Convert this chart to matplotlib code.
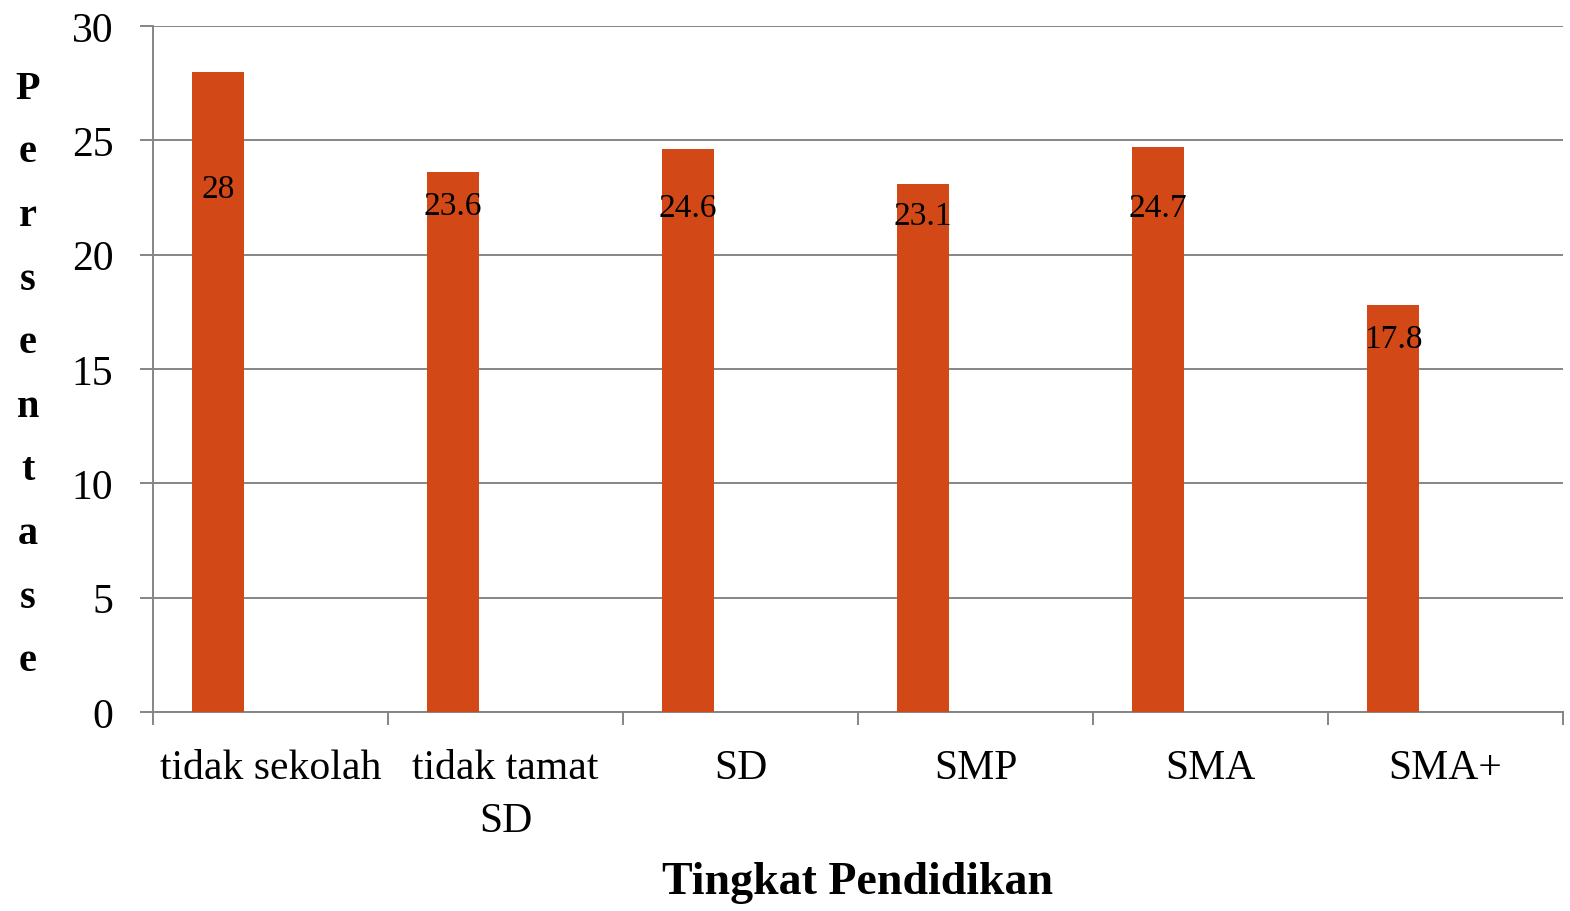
import matplotlib
matplotlib.use("Agg")
import matplotlib.pyplot as plt
import numpy as np

categories = ["tidak sekolah", "tidak tamat\nSD", "SD", "SMP", "SMA", "SMA+"]
values = [28, 23.6, 24.6, 23.1, 24.7, 17.8]
value_labels = ["28", "23.6", "24.6", "23.1", "24.7", "17.8"]
label_y = [22.87, 22.13, 22.04, 21.69, 22.04, 16.31]
yticks = [0, 5, 10, 15, 20, 25, 30]

FONT = "Liberation Serif"
plt.rcParams['font.family'] = [FONT, 'DejaVu Serif']

fig = plt.figure(figsize=(15.7, 9.12), dpi=100)
ax = fig.add_axes([153/1570, 1 - 713/912, (1563-153)/1570, (713-27)/912])

n = len(categories)
x = np.arange(n)
bar_off = 65/235
bar_w = 52/235
ax.bar(x + bar_off, values, width=bar_w, color="#D24817", zorder=3)

for xi, ly, lab in zip(x, label_y, value_labels):
    ax.text(xi + bar_off, ly, lab, ha="center", va="center", fontsize=24,
            color="black", zorder=4)

ax.set_xlim(0, n)
ax.set_ylim(0, 30)
ax.set_yticks(yticks)
ax.set_yticklabels([str(t) for t in yticks], fontsize=30)
ax.yaxis.grid(True, color="#858585", lw=1.4, zorder=0)
ax.tick_params(axis="y", length=9.5, width=1.4, color="#858585", pad=19)

ax.set_xticks(np.arange(n + 1))
ax.set_xticklabels([])
ax.set_xticks(x + 0.5, minor=True)
ax.set_xticklabels(categories, minor=True, fontsize=30, linespacing=1.5)
ax.tick_params(axis="x", which="major", length=9.5, width=1.4, color="#858585")
ax.tick_params(axis="x", which="minor", length=0, pad=26)

for s in ["top", "right"]:
    ax.spines[s].set_visible(False)
for s in ["left", "bottom"]:
    ax.spines[s].set_color("#858585")
    ax.spines[s].set_linewidth(1.4)

fig.text(858/1570, 1 - 883/912, "Tingkat Pendidikan", ha="center", va="center",
         fontsize=33, fontweight="bold")

ylabel = "Persentase"
fig.text(28/1570, 1 - 375.5/912, "\n".join(ylabel), ha="center", va="center",
         fontsize=29, fontweight="bold", linespacing=1.95)

fig.savefig("out.png", dpi=100)
